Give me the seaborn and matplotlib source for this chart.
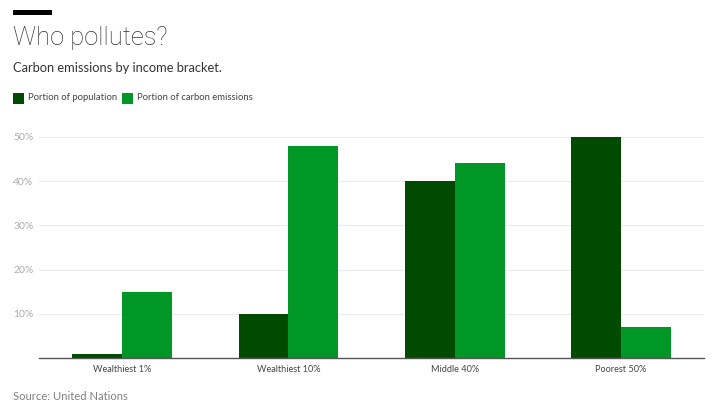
import matplotlib
matplotlib.use("Agg")
import matplotlib.pyplot as plt
import pandas as pd
import seaborn as sns

brackets = ["Wealthiest 1%", "Wealthiest 10%", "Middle 40%", "Poorest 50%"]
population = [1, 10, 40, 50]
emissions = [15, 48, 44, 7]
y_ticks = [10, 20, 30, 40, 50]

df = pd.DataFrame({"bracket": brackets, "Portion of population": population,
                   "Portion of carbon emissions": emissions})
long_df = df.melt(id_vars="bracket", var_name="series", value_name="value")

sns.set_theme(style="white")
plt.rcParams["font.family"] = ["Lato", "DejaVu Sans"]

fig = plt.figure(figsize=(7.13, 4.01), dpi=100)
W, H = 713, 401
ax = fig.add_axes([39 / W, 1 - 358 / H, 665 / W, (358 - 136.8) / H])

sns.barplot(data=long_df, x="bracket", y="value", hue="series", ax=ax,
            palette=["#004b00", "#019726"], width=0.6, saturation=1, legend=False,
            linewidth=0, gap=0)

ax.set_xlim(-0.5, 3.5)
ax.set_ylim(0, 50)
ax.set_yticks(y_ticks)
ax.set_yticklabels([f"{v}%" for v in y_ticks], color="#aaaaaa", fontsize=7.5)
ax.tick_params(axis="y", length=0, pad=4)
ax.tick_params(axis="x", length=0, pad=5, labelsize=6.6, labelcolor="#444444")
ax.set_xlabel("")
ax.set_ylabel("")
ax.grid(axis="y", color="#ececec", lw=0.8)
ax.set_axisbelow(True)
for s in ["top", "left", "right"]:
    ax.spines[s].set_visible(False)
ax.spines["bottom"].set_color("#555555")
ax.spines["bottom"].set_linewidth(1.0)

# barra negra de arriba
fig.patches.append(plt.Rectangle((13 / W, 1 - 15 / H), 39 / W, 5 / H, facecolor="black",
                                 linewidth=0, transform=fig.transFigure))
fig.text(13 / W, 1 - 38 / H, "Who pollutes?", fontsize=18.4, color="#333333", va="center",
         family="Roboto", fontweight="light")
fig.text(13 / W, 1 - 68.5 / H, "Carbon emissions by income bracket.", fontsize=9.3,
         color="#333333", va="center")

# leyenda hecha a mano
fig.patches.append(plt.Rectangle((13 / W, 1 - 104 / H), 11 / W, 11 / H, facecolor="#004b00",
                                 linewidth=0, transform=fig.transFigure))
fig.text(28 / W, 1 - 98 / H, "Portion of population", fontsize=6.8, color="#444444", va="center")
fig.patches.append(plt.Rectangle((122 / W, 1 - 104 / H), 11 / W, 11 / H, facecolor="#019726",
                                 linewidth=0, transform=fig.transFigure))
fig.text(137 / W, 1 - 98 / H, "Portion of carbon emissions", fontsize=6.8, color="#444444", va="center")

fig.text(13 / W, 1 - 396 / H, "Source: United Nations", fontsize=8.1, color="#808080", va="center")

fig.savefig("out.png", dpi=100)
